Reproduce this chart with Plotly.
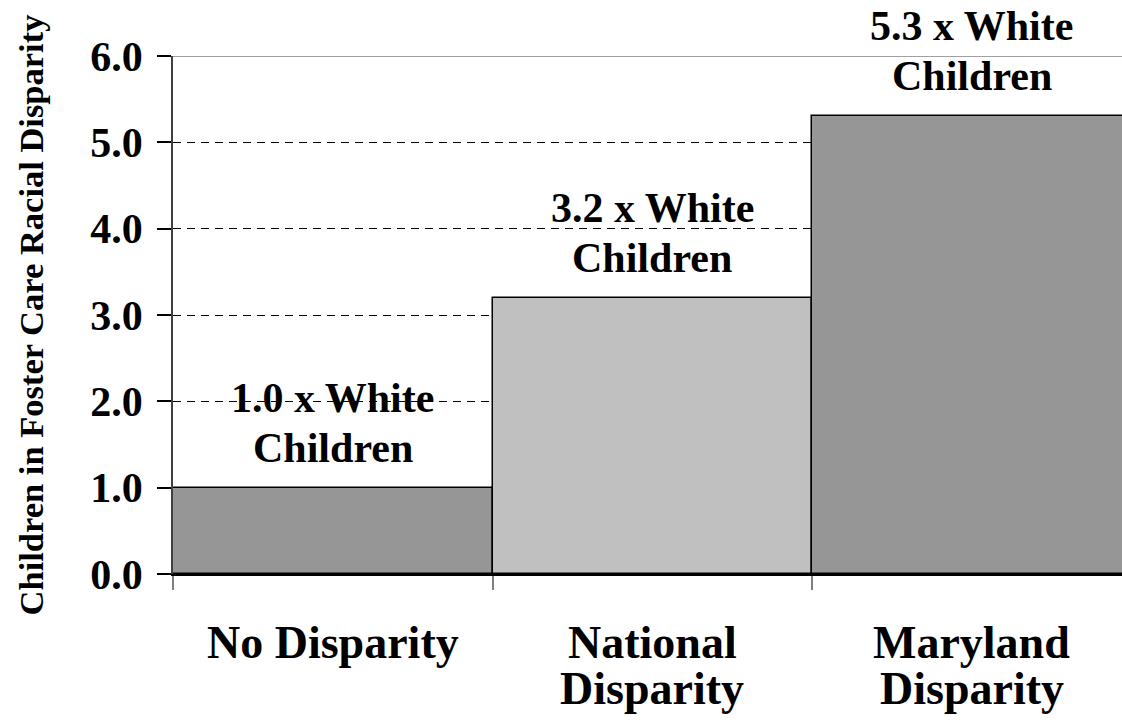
import plotly.graph_objects as go

# Data
categories = ["No Disparity", "National Disparity", "Maryland Disparity"]
category_lines = [["No Disparity"], ["National", "Disparity"], ["Maryland", "Disparity"]]
values = [1.0, 3.2, 5.3]
label_line1 = ["1.0 x White", "3.2 x White", "5.3 x White"]
label_line2 = ["Children", "Children", "Children"]
bar_colors = ["#969696", "#c0c0c0", "#969696"]
y_ticks = [0, 1, 2, 3, 4, 5, 6]
y_ticktext = ["0.0", "1.0", "2.0", "3.0", "4.0", "5.0", "6.0"]
y_title = "Children in Foster Care Racial Disparity"

FONT = "Liberation Serif"

fig = go.Figure()
fig.add_trace(go.Bar(
    x=categories, y=values,
    marker=dict(color=bar_colors, line=dict(color="#000000", width=1.5)),
    hoverinfo="skip",
))

annotations = []
for cat, v, l1, l2 in zip(categories, values, label_line1, label_line2):
    annotations.append(dict(x=cat, y=v, xref="x", yref="y", text=f"<b>{l1}</b>",
                            showarrow=False, yanchor="middle", yshift=90,
                            font=dict(family=FONT, size=42, color="#000")))
    annotations.append(dict(x=cat, y=v, xref="x", yref="y", text=f"<b>{l2}</b>",
                            showarrow=False, yanchor="middle", yshift=40,
                            font=dict(family=FONT, size=42, color="#000")))

line_shifts = [-68, -114]
for cat, lines in zip(categories, category_lines):
    for i, ln in enumerate(lines):
        annotations.append(dict(x=cat, y=0, xref="x", yref="y", text=f"<b>{ln}</b>",
                                showarrow=False, yanchor="middle", yshift=line_shifts[i],
                                font=dict(family=FONT, size=46, color="#000")))

fig.update_layout(
    width=1122, height=724,
    margin=dict(l=173, r=0, t=56, b=150, autoexpand=False),
    paper_bgcolor="white", plot_bgcolor="white",
    bargap=0,
    showlegend=False,
    annotations=annotations,
    font=dict(family=FONT, color="#000"),
    shapes=[dict(type="line", xref="paper", yref="y", x0=0, x1=1, y0=6, y1=6,
                 line=dict(color="#808080", width=1.5), layer="above")],
)

fig.update_xaxes(
    type="category",
    range=[-0.5, 2.47],
    showticklabels=False,
    ticks="outside", tickson="boundaries", ticklen=14, tickwidth=1.5, tickcolor="#808080",
    showline=True, linecolor="#000000", linewidth=1.5,
    showgrid=False, zeroline=False,
)

fig.update_yaxes(
    range=[0, 6],
    tickvals=y_ticks, ticktext=[f"<b>{t}</b>" for t in y_ticktext],
    tickfont=dict(family=FONT, size=42, color="#000"),
    ticks="outside", ticklen=14, tickwidth=1.5, tickcolor="#000000",
    ticklabelstandoff=6,
    showline=True, linecolor="#404040", linewidth=1.5,
    showgrid=True, gridcolor="#000000", gridwidth=1, griddash="8px,6px",
    zeroline=False,
    title=dict(text=f"<b>{y_title}</b>", font=dict(family=FONT, size=34.5, color="#000"), standoff=36),
    automargin=False,
)

fig.write_html(
    "out.html",
    config={"displayModeBar": False},
    post_script="document.body.style.margin='0';document.body.style.overflow='hidden';",
)
